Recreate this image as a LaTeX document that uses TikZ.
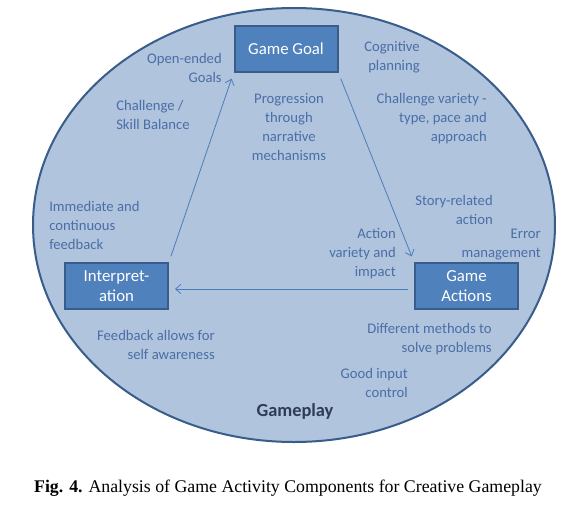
\documentclass[tikz,border=0pt]{standalone}
\usepackage{fontspec}
\setmainfont{Carlito}
\newfontfamily\capfont{Liberation Serif}
\usetikzlibrary{arrows.meta}
\definecolor{ellfill}{RGB}{176,196,222}
\definecolor{ellline}{RGB}{56,93,138}
\definecolor{boxfill}{RGB}{79,129,189}
\definecolor{lbl}{RGB}{74,110,165}
\definecolor{gp}{RGB}{45,60,88}
\definecolor{arr}{RGB}{74,126,187}
\begin{document}
\begin{tikzpicture}[x=0.75pt,y=-0.75pt,
  box/.style={draw=ellline, line width=1.5pt, fill=boxfill, text=white,
    minimum width=77.25pt, minimum height=34.5pt, inner sep=0pt, align=center,
    font=\fontsize{12.6}{15}\selectfont},
  lab/.style={text=lbl, inner sep=0pt, font=\fontsize{11}{14.25}\selectfont},
  con/.style={draw=arr, line width=0.6pt, -{Straight Barb[length=4pt,width=7pt]},
    shorten <=4.5pt, shorten >=4.5pt}]
\useasboundingbox (0,0) rectangle (565,508);
\fill[white] (0,0) rectangle (565,508);
\draw[fill=ellfill, draw=ellline, line width=1.5pt] (294,225) ellipse [x radius=261, y radius=217];

\node[box] (goal) at (286,49) {Game Goal};
\node[box] (interp) at (116.5,286) {Interpret-\\ation};
\node[box] (actions) at (466.5,286) {Game\\Actions};

\draw[con] (interp.north east) -- (goal.south west);
\draw[con] (goal.south east) -- (actions.north west);
\draw[con] ([yshift=-2.25pt]actions.west) -- ([yshift=-2.25pt]interp.east);

\node[lab, anchor=base east, align=right] (og) at (222,82) {Open-ended\\Goals};
\node[lab, anchor=base west, align=left] (cs) at (116,129) {Challenge /\\Skill Balance};
\node[lab, anchor=base east, align=right] (cp) at (420,70) {Cognitive\\planning};
\node[lab, anchor=base east, align=right] (cv) at (487,141) {Challenge variety -\\type, pace and\\approach};
\node[lab, anchor=base, align=center] (pn) at (289,160) {Progression\\through\\narrative\\mechanisms};
\node[lab, anchor=base west, align=left] (ic) at (49,249) {Immediate and\\continuous\\feedback};
\node[lab, anchor=base east, align=right] (sr) at (493,224) {Story-related\\action};
\node[lab, anchor=base east, align=right] (av) at (396,276) {Action\\variety and\\impact};
\node[lab, anchor=base east, align=right] (em) at (541,257) {Error\\management};
\node[lab, anchor=base east, align=right] (fa) at (215,359) {Feedback allows for\\self awareness};
\node[lab, anchor=base east, align=right] (dm) at (492,352) {Different methods to\\solve problems};
\node[lab, anchor=base east, align=right] (gi) at (408,397) {Good input\\control};
\node[text=gp, inner sep=0pt, anchor=base, font=\fontsize{13.8}{16}\selectfont\bfseries] (gpl) at (295,416) {Gameplay};

\node[inner sep=0pt, anchor=base, font=\capfont\fontsize{13.35}{15}\selectfont] (cap) at (288,492) {\textbf{Fig. 4.} Analysis of Game Activity Components for Creative Gameplay};
\end{tikzpicture}
\end{document}
